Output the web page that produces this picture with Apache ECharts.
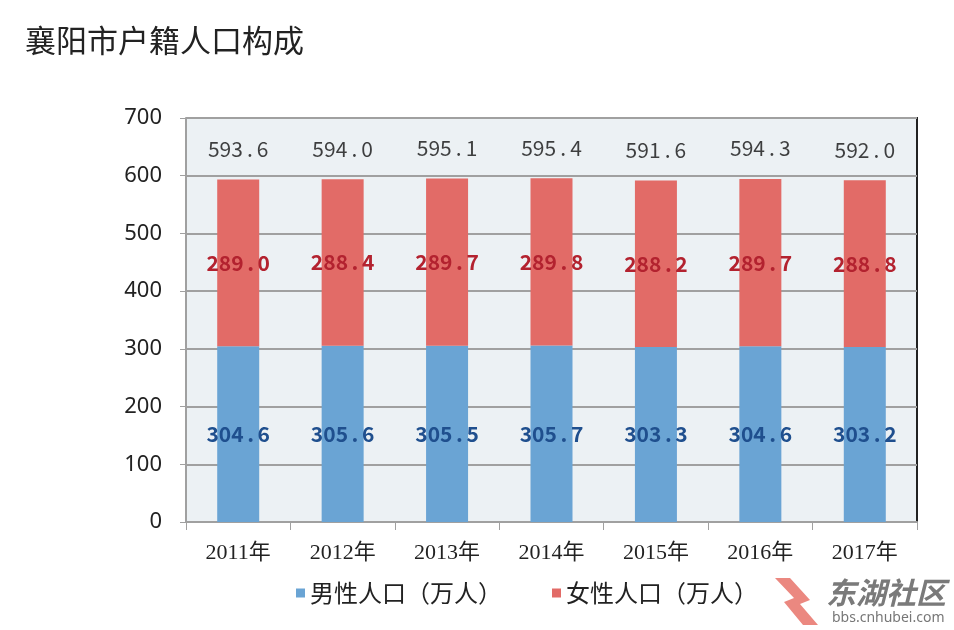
<!DOCTYPE html>
<html><head><meta charset="utf-8">
<script src="https://cdn.jsdelivr.net/npm/echarts@6/dist/echarts.min.js"></script>
<style>html,body{margin:0;padding:0;background:#fff}#c{width:954px;height:630px}</style>
</head><body><div id="c"></div>
<script>
const title = '襄阳市户籍人口构成';
const categories = ['2011年','2012年','2013年','2014年','2015年','2016年','2017年'];
const male = [304.6, 305.6, 305.5, 305.7, 303.3, 304.6, 303.2];
const female = [289.0, 288.4, 289.7, 289.8, 288.2, 289.7, 288.8];
const totals = [593.6, 594.0, 595.1, 595.4, 591.6, 594.3, 592.0];
const yTicks = [0, 100, 200, 300, 400, 500, 600, 700];
const seriesNames = ['男性人口（万人）', '女性人口（万人）'];

const cjk = '"Noto Sans CJK SC", "Noto Sans", sans-serif';
const serif = '"Liberation Serif", "DejaVu Serif", "Noto Sans CJK SC", serif';
// number label with a wide decimal point, as in the source image
const fmt = p => {
  const s = Number(p.value).toFixed(1).split('.');
  return '{n|' + s[0] + '}{d|.}{n|' + s[1] + '}';
};
const richFor = (color, weight) => ({
  n: { fontFamily: cjk, fontSize: 21, fontWeight: weight, color: color },
  d: { fontFamily: cjk, fontSize: 21, fontWeight: weight, color: color, width: 14, align: 'left' }
});
const chart = echarts.init(document.getElementById('c'));
chart.setOption({
  animation: false,
  backgroundColor: '#ffffff',
  title: {
    text: title, left: 20, top: 20,
    textStyle: { fontFamily: cjk, fontSize: 31, fontWeight: 'normal', color: '#222' }
  },
  legend: {
    bottom: 20, left: 291, itemGap: 50,
    itemWidth: 9, itemHeight: 9, icon: 'rect',
    data: seriesNames,
    textStyle: { fontFamily: cjk, fontSize: 24, color: '#222' }
  },
  grid: {
    left: 186, right: 37, top: 118, bottom: 108,
    show: true, backgroundColor: '#ECF1F4', borderWidth: 0
  },
  xAxis: {
    type: 'category', data: categories,
    axisLine: { show: true, lineStyle: { color: '#a0a0a0', width: 2 } },
    axisTick: { show: true, length: 8, lineStyle: { color: '#a0a0a0', width: 1 } },
    axisLabel: { fontFamily: serif, fontSize: 22, color: '#222', margin: 20 }
  },
  yAxis: {
    type: 'value', min: 0, max: 700, interval: 100,
    axisLine: { show: true, lineStyle: { color: '#a0a0a0', width: 2 } },
    axisTick: { show: true, length: 6, lineStyle: { color: '#a0a0a0' } },
    splitLine: { lineStyle: { color: '#a0a0a0', width: 2 } },
    axisLabel: {
      fontFamily: '"Noto Sans", sans-serif', fontSize: 22, color: '#222', margin: 24,
      formatter: v => yTicks.includes(v) ? String(v) : ''
    }
  },
  graphic: [
    { type: 'line', shape: { x1: 917, y1: 117, x2: 917, y2: 522 }, style: { stroke: '#222', lineWidth: 2 } },
    { type: 'text', left: 826, top: 578, style: { text: '东湖社区', font: 'italic bold 30px "Noto Sans CJK SC"', fill: '#7a7a7a' } },
    { type: 'text', left: 832, top: 611, style: { text: 'bbs.cnhubei.com', font: '14px "Noto Sans"', fill: '#777' } },
    { type: 'polygon', shape: { points: [[775,578],[790,578],[810,600],[800,604],[818,625],[803,625],[784,602],[794,598]] }, style: { fill: '#E8736A', opacity: 0.85 } }
  ],
  series: [
    {
      name: seriesNames[0], type: 'bar', stack: 'pop', barWidth: 42,
      data: male, itemStyle: { color: '#6AA4D4' },
      label: { show: true, position: 'inside', formatter: fmt, rich: richFor('#1F4F8E', 'bold') }
    },
    {
      name: seriesNames[1], type: 'bar', stack: 'pop', barWidth: 42,
      data: female, itemStyle: { color: '#E26B67' },
      label: { show: true, position: 'inside', formatter: fmt, rich: richFor('#B3222F', 'bold') }
    },
    {
      name: 'total', type: 'scatter', data: totals, symbol: 'circle', symbolSize: 2,
      itemStyle: { color: 'rgba(0,0,0,0)' }, silent: true,
      label: { show: true, position: 'top', distance: 19, formatter: fmt, rich: richFor('#111', 'normal') }
    }
  ]
});
</script></body></html>
